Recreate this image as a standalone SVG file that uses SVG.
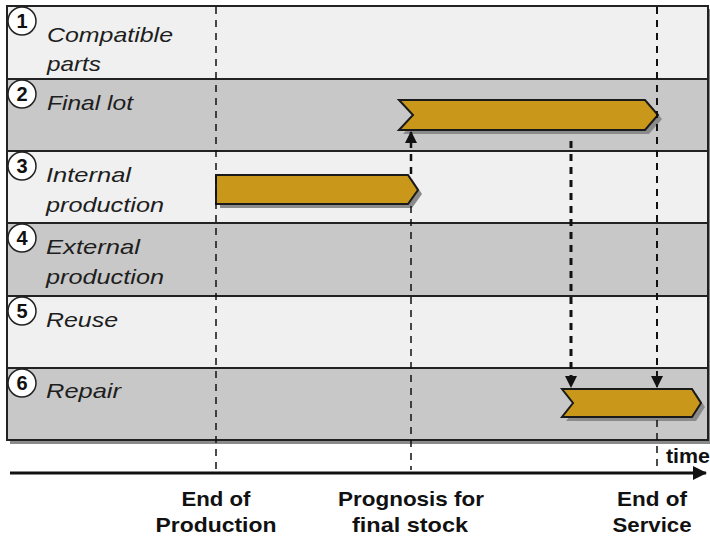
<svg xmlns="http://www.w3.org/2000/svg" width="710" height="539" viewBox="0 0 710 539">
<defs>
<style>
.lbl{font-family:"Liberation Sans",Arial,sans-serif;font-style:italic;font-size:21px;fill:#1e1e1e}
.num{font-family:"Liberation Sans",Arial,sans-serif;font-weight:bold;font-size:20px;fill:#111;text-anchor:middle}
.ax{font-family:"Liberation Sans",Arial,sans-serif;font-weight:bold;font-size:21px;fill:#111;text-anchor:middle}
.light{fill:#eff0ef}
.dark{fill:#c8c8c8}
.sep{stroke:#222;stroke-width:2}
.circ{fill:#fff;stroke:#222;stroke-width:1.5}
.chev{fill:#c9981a;stroke:#1a1a1a;stroke-width:2;stroke-linejoin:miter}
.shadow{fill:#8a8a8a}
.dash{fill:none;stroke:#111;stroke-dasharray:7 6}
</style>
<marker id="ah" markerWidth="12" markerHeight="12" refX="11" refY="6" orient="auto" markerUnits="userSpaceOnUse"><path d="M0,0 L12,6 L0,12 Z" fill="#111"/></marker>
<marker id="ah2" markerWidth="14" markerHeight="14" refX="13" refY="7" orient="auto" markerUnits="userSpaceOnUse"><path d="M0,0 L14,7 L0,14 Z" fill="#111"/></marker>
</defs>
<rect x="0" y="0" width="710" height="539" fill="#fff"/>
<g id="lanes">
<rect x="10" y="9" width="701" height="435" class="shadow"/>
<rect x="7" y="6" width="701" height="73" class="light"/>
<rect x="7" y="79" width="701" height="72" class="dark"/>
<rect x="7" y="151" width="701" height="72" class="light"/>
<rect x="7" y="223" width="701" height="73" class="dark"/>
<rect x="7" y="296" width="701" height="72" class="light"/>
<rect x="7" y="368" width="701" height="72" class="dark"/>
<line x1="7" y1="79" x2="708" y2="79" class="sep"/>
<line x1="7" y1="151" x2="708" y2="151" class="sep"/>
<line x1="7" y1="223" x2="708" y2="223" class="sep"/>
<line x1="7" y1="296" x2="708" y2="296" class="sep"/>
<line x1="7" y1="368" x2="708" y2="368" class="sep"/>
<rect x="7" y="6" width="701" height="434" fill="none" stroke="#222" stroke-width="2"/>
</g>
<g id="row1"><circle cx="22" cy="21" r="14" class="circ"/><text x="22" y="28" class="num">1</text>
<text x="47" y="42" class="lbl" textLength="126" lengthAdjust="spacingAndGlyphs">Compatible</text>
<text x="47" y="71" class="lbl" textLength="54" lengthAdjust="spacingAndGlyphs">parts</text></g>
<g id="row2"><circle cx="22" cy="94" r="14" class="circ"/><text x="22" y="101" class="num">2</text>
<text x="47" y="110" class="lbl" textLength="86" lengthAdjust="spacingAndGlyphs">Final lot</text></g>
<g id="row3"><circle cx="22" cy="166" r="14" class="circ"/><text x="22" y="173" class="num">3</text>
<text x="46" y="182" class="lbl" textLength="85" lengthAdjust="spacingAndGlyphs">Internal</text>
<text x="46" y="212" class="lbl" textLength="118" lengthAdjust="spacingAndGlyphs">production</text></g>
<g id="row4"><circle cx="22" cy="238" r="14" class="circ"/><text x="22" y="245" class="num">4</text>
<text x="46" y="254" class="lbl" textLength="94" lengthAdjust="spacingAndGlyphs">External</text>
<text x="46" y="284" class="lbl" textLength="118" lengthAdjust="spacingAndGlyphs">production</text></g>
<g id="row5"><circle cx="22" cy="311" r="14" class="circ"/><text x="22" y="318" class="num">5</text>
<text x="46" y="327" class="lbl" textLength="72" lengthAdjust="spacingAndGlyphs">Reuse</text></g>
<g id="row6"><circle cx="22" cy="383" r="14" class="circ"/><text x="22" y="390" class="num">6</text>
<text x="46" y="398" class="lbl" textLength="75" lengthAdjust="spacingAndGlyphs">Repair</text></g>
<g id="bar-final-lot">
<polygon points="403,104 649,104 662,119 649,134 403,134 417,119" class="shadow"/>
<polygon points="399,100 645,100 658,115 645,130 399,130 413,115" class="chev"/>
</g>
<g id="bar-internal">
<polygon points="220,179 412,179 422,194 412,208 220,208" class="shadow"/>
<polygon points="216,175 408,175 418,190 408,204 216,204" class="chev"/>
</g>
<g id="bar-repair">
<polygon points="566,393 696,393 705,407 696,421 566,421 577,407" class="shadow"/>
<polygon points="562,389 692,389 701,403 692,417 562,417 573,403" class="chev"/>
</g>
<g id="connectors">
<line x1="216" y1="7" x2="216" y2="470" class="dash" stroke-width="1.5"/>
<line x1="411" y1="206" x2="411" y2="470" class="dash" stroke-width="1.5"/>
<line x1="657" y1="7" x2="657" y2="387" class="dash" stroke-width="2" marker-end="url(#ah)"/>
<line x1="657" y1="420" x2="657" y2="466" class="dash" stroke-width="1.5"/>
<line x1="411" y1="174" x2="411" y2="132" class="dash" stroke-width="2.5" marker-end="url(#ah)"/>
<line x1="571" y1="141" x2="571" y2="387" class="dash" stroke-width="3" marker-end="url(#ah)"/>
<line x1="10" y1="473" x2="706" y2="473" stroke="#111" stroke-width="3" marker-end="url(#ah2)"/>
</g>
<g id="axis-labels">
<text x="688" y="463" class="ax" textLength="44" lengthAdjust="spacingAndGlyphs">time</text>
<text x="216" y="506" class="ax" textLength="69" lengthAdjust="spacingAndGlyphs">End of</text>
<text x="216" y="532" class="ax" textLength="121" lengthAdjust="spacingAndGlyphs">Production</text>
<text x="411" y="506" class="ax" textLength="146" lengthAdjust="spacingAndGlyphs">Prognosis for</text>
<text x="410" y="532" class="ax" textLength="116" lengthAdjust="spacingAndGlyphs">final stock</text>
<text x="652" y="506" class="ax" textLength="70" lengthAdjust="spacingAndGlyphs">End of</text>
<text x="652" y="532" class="ax" textLength="79" lengthAdjust="spacingAndGlyphs">Service</text>
</g>
</svg>
